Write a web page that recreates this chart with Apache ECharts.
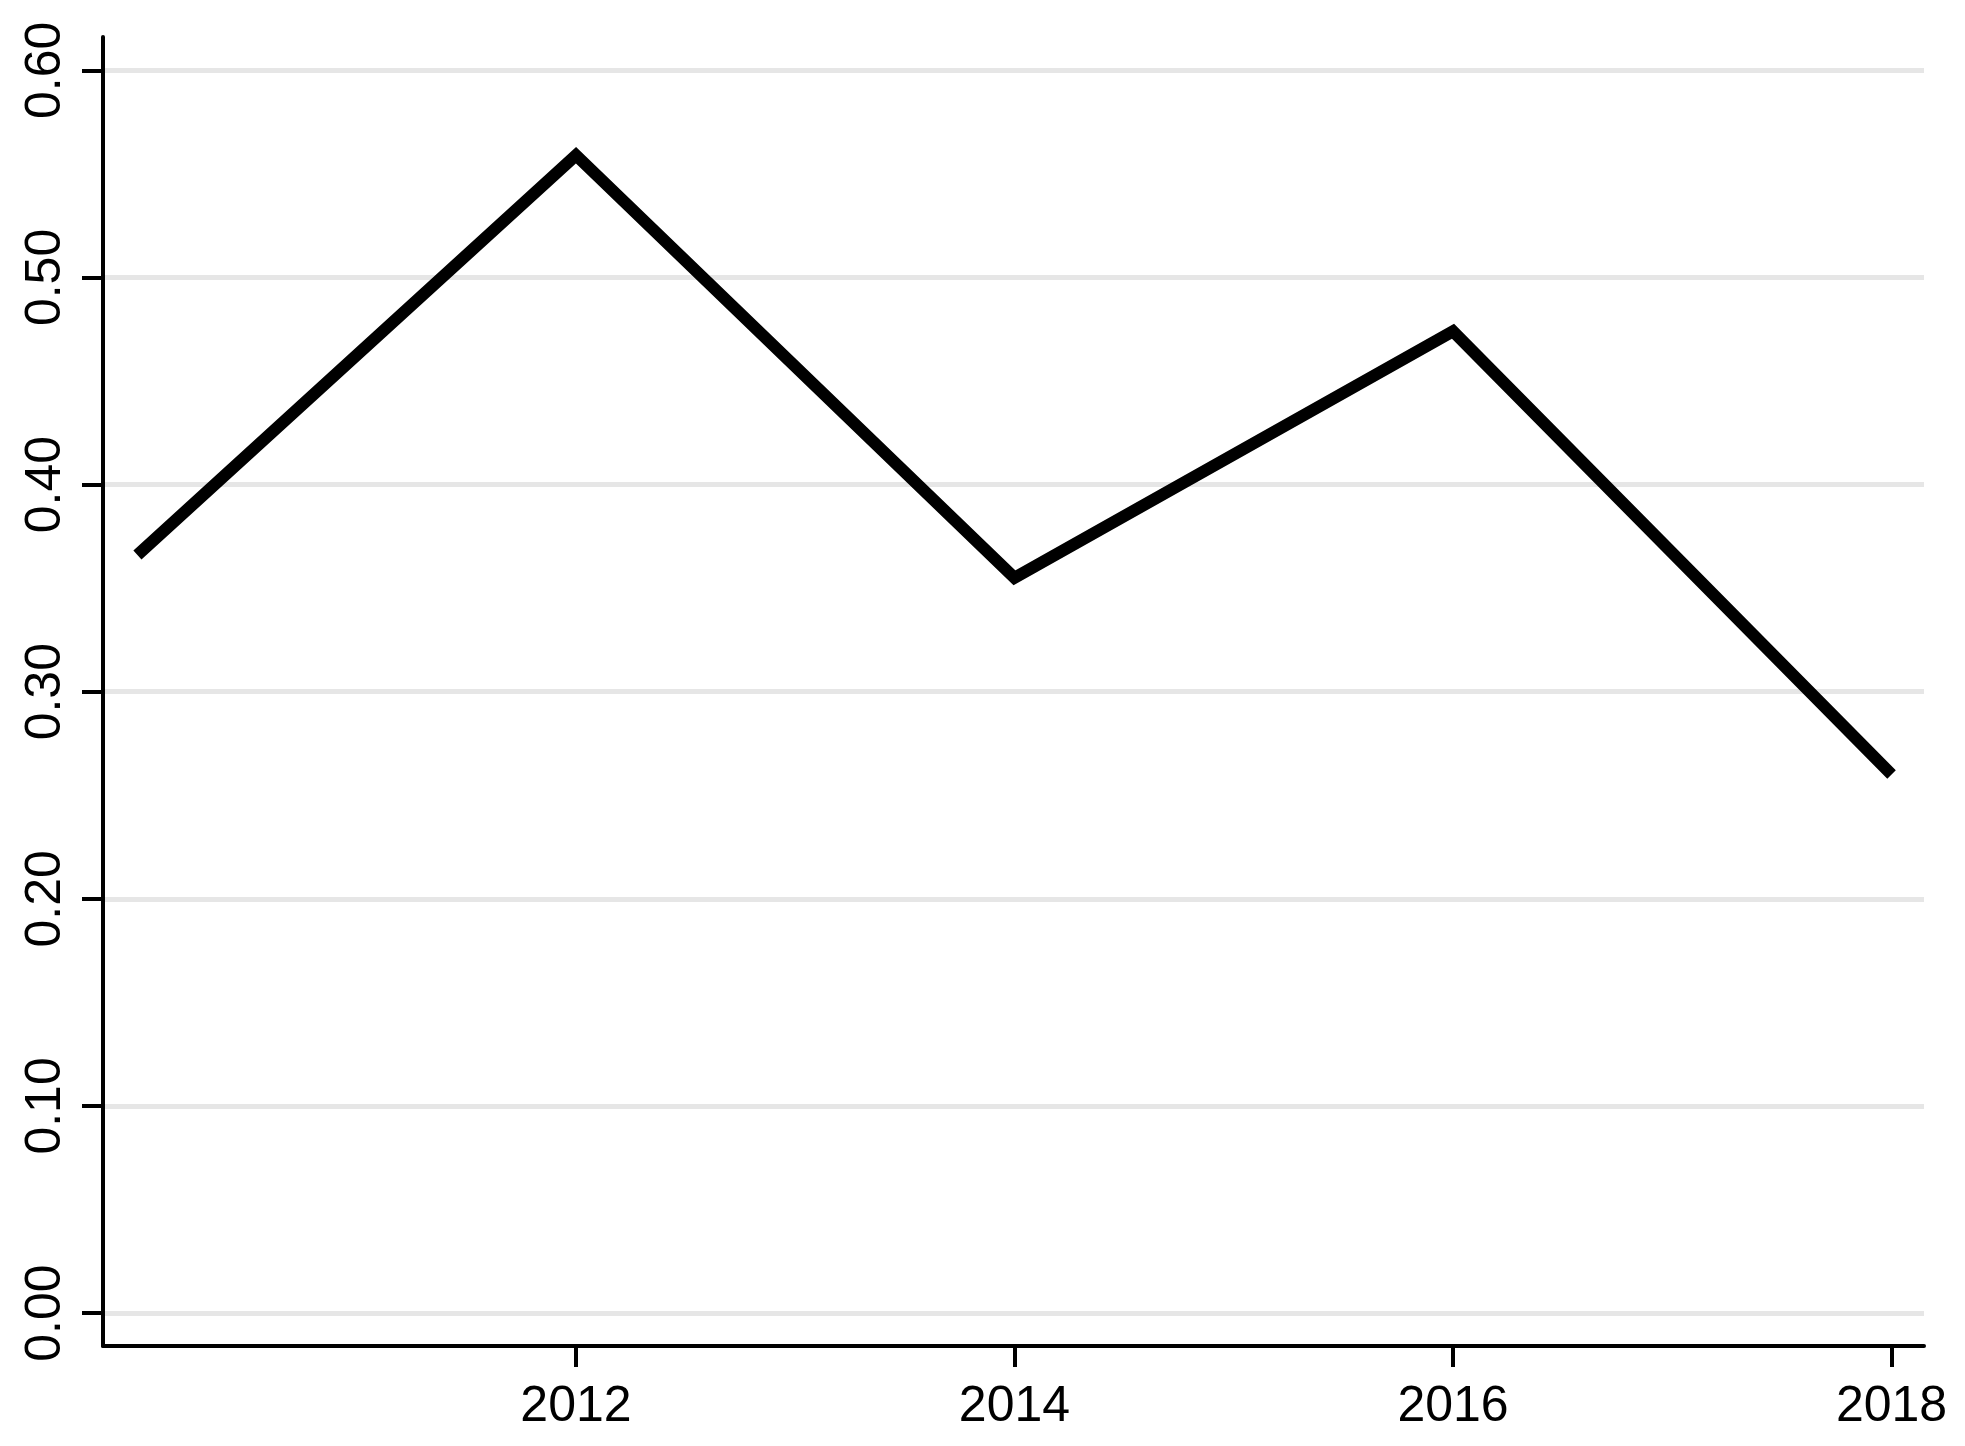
<!DOCTYPE html>
<html>
<head>
<meta charset="utf-8">
<title>Line chart</title>
<script src="https://cdn.jsdelivr.net/npm/echarts@6/dist/echarts.min.js"></script>
<style>
  html, body { margin: 0; padding: 0; background: #fff; }
  #chart { width: 1965px; height: 1446px; }
</style>
</head>
<body>
<div id="chart"></div>
<script>
const years = [2010, 2012, 2014, 2016, 2018]
const values = [0.366, 0.559, 0.355, 0.474, 0.260]
const xTicks = [2012, 2014, 2016, 2018]
const yTicks = [0, 0.1, 0.2, 0.3, 0.4, 0.5, 0.6]

const font = '"Liberation Sans", Arial, sans-serif'

const chart = echarts.init(document.getElementById('chart'))

chart.setOption({
  animation: false,
  backgroundColor: '#fff',
  grid: { left: 103, right: 41, top: 37, bottom: 100 },
  xAxis: {
    type: 'value',
    min: 2009.843,
    max: 2018.148,
    axisLine: { show: true, onZero: false, lineStyle: { color: '#000', width: 4 } },
    axisTick: { show: true, customValues: xTicks, length: 21, lineStyle: { color: '#000', width: 4 } },
    axisLabel: {
      customValues: xTicks,
      margin: 36,
      color: '#000',
      fontSize: 50,
      fontFamily: font,
      formatter: (v) => String(v),
    },
    splitLine: { show: false },
  },
  yAxis: {
    type: 'value',
    min: -0.0159,
    max: 0.6161,
    axisLine: { show: true, onZero: false, lineStyle: { color: '#000', width: 4 } },
    axisTick: { show: true, customValues: yTicks, length: 21, lineStyle: { color: '#000', width: 4 } },
    axisLabel: {
      customValues: yTicks,
      rotate: 90,
      margin: 32,
      color: '#000',
      fontSize: 50,
      fontFamily: font,
      formatter: (v) => v.toFixed(2),
    },
    splitLine: { show: true, lineStyle: { color: '#e6e6e6', width: 5 } },
  },
  series: [
    {
      type: 'line',
      data: years.map((y, i) => [y, values[i]]),
      showSymbol: false,
      lineStyle: { color: '#000', width: 12, cap: 'butt', join: 'miter' },
    },
  ],
})
</script>
</body>
</html>
